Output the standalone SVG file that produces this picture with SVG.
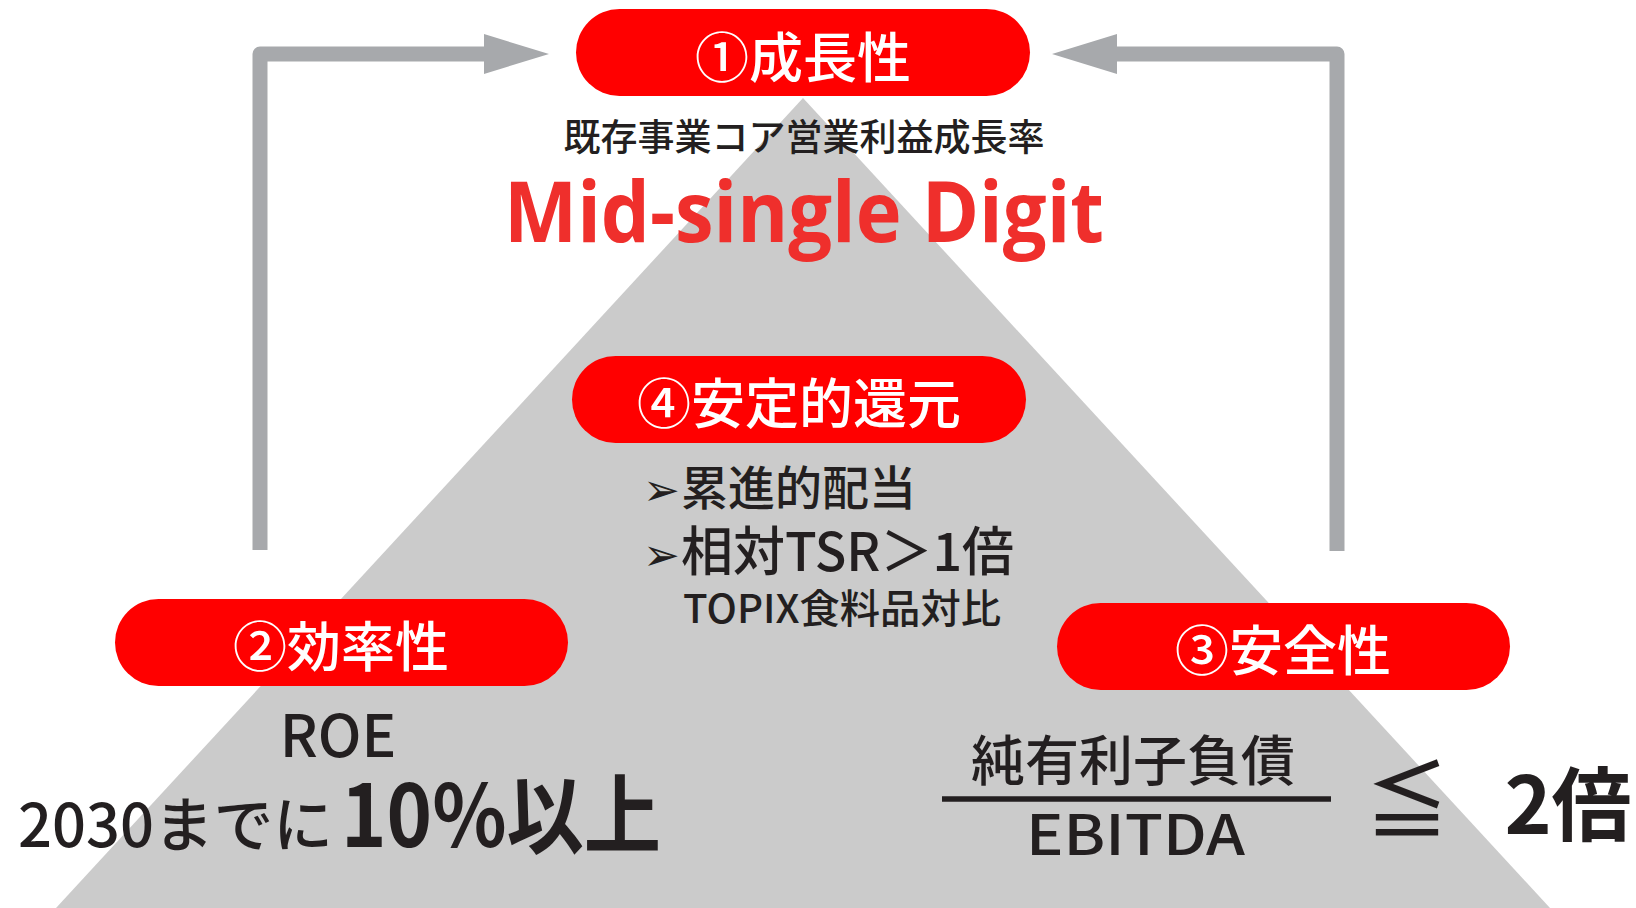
<svg xmlns="http://www.w3.org/2000/svg" width="1636" height="908" viewBox="0 0 1636 908">
<style>
.pill{fill:#ff0000}
.pt{fill:#ffffff;font-family:"Noto Sans CJK JP","Noto Sans",sans-serif;font-size:54px;font-weight:500;text-anchor:middle}
.dk{fill:#231f20;font-family:"Noto Sans CJK JP","Noto Sans",sans-serif;font-weight:500}
.bul{font-family:"DejaVu Sans",sans-serif;font-size:44px}
.conn{fill:none;stroke:#a7a9ac;stroke-width:15;stroke-linejoin:round}
</style>
<defs>
<marker id="ah" markerUnits="userSpaceOnUse" markerWidth="66" markerHeight="42" refX="0" refY="21" orient="auto" viewBox="0 0 66 42">
<path d="M0,1 L65,21 L0,41 Z" fill="#a7a9ac"/>
</marker>
</defs>
<rect width="1636" height="908" fill="#ffffff"/>
<polygon id="pyramid" points="803,98 56,908 1550,908" fill="#cbcbcb"/>
<g id="connectors">
<path class="conn" d="M260,550 V54 H484" marker-end="url(#ah)"/>
<path class="conn" d="M1337,551 V54 H1117" marker-end="url(#ah)"/>
</g>
<g id="growth">
<rect class="pill" x="576" y="9" width="454" height="87" rx="43.5"/>
<text class="pt" x="803" y="78">①成長性</text>
<text class="dk" x="804" y="150.5" font-size="37" text-anchor="middle">既存事業コア営業利益成長率</text>
<text x="804" y="242" font-family="'Open Sans','Noto Sans',sans-serif" font-weight="700" font-size="84" fill="#ef2f2c" text-anchor="middle" textLength="600" lengthAdjust="spacingAndGlyphs">Mid-single Digit</text>
</g>
<g id="return">
<rect class="pill" x="572" y="356" width="454" height="87" rx="43.5"/>
<text class="pt" x="799" y="424">④安定的還元</text>
<text class="dk" y="505" font-size="47"><tspan class="bul" x="643">➢</tspan><tspan x="681">累進的配当</tspan></text>
<text class="dk" y="571" font-size="53"><tspan class="bul" x="643" dy="-1">➢</tspan><tspan x="681" dy="1" textLength="333" lengthAdjust="spacingAndGlyphs">相対TSR＞1倍</tspan></text>
<text class="dk" x="683" y="623" font-size="40" textLength="318" lengthAdjust="spacingAndGlyphs">TOPIX食料品対比</text>
</g>
<g id="efficiency">
<rect class="pill" x="115" y="599" width="453" height="87" rx="43.5"/>
<text class="pt" x="341" y="667">②効率性</text>
<text class="dk" x="338" y="757" font-size="58" text-anchor="middle">ROE</text>
<text class="dk" x="18" y="847" font-size="60"><tspan textLength="315" lengthAdjust="spacingAndGlyphs">2030までに</tspan><tspan x="341" font-size="86" style="font-weight:700" textLength="320" lengthAdjust="spacingAndGlyphs">10%以上</tspan></text>
</g>
<g id="safety">
<rect class="pill" x="1057" y="603" width="453" height="87" rx="43.5"/>
<text class="pt" x="1283" y="671">③安全性</text>
<text class="dk" x="1133" y="781" font-size="54" text-anchor="middle">純有利子負債</text>
<line x1="942" y1="799" x2="1331" y2="799" stroke="#231f20" stroke-width="5.5"/>
<text class="dk" x="1135.5" y="855" font-size="56" text-anchor="middle" textLength="219" lengthAdjust="spacingAndGlyphs">EBITDA</text>
<text class="dk" x="1407" y="831" font-size="84" text-anchor="middle">≦</text>
<text class="dk" x="1568" y="834" font-size="80" text-anchor="middle" style="font-weight:700">2倍</text>
</g>
</svg>
